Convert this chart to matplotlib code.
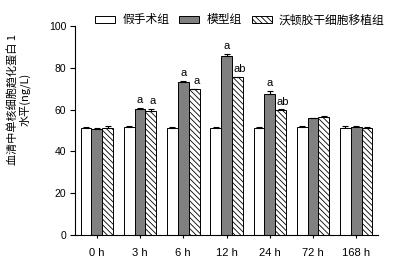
import numpy as np
import matplotlib.pyplot as plt

plt.rcParams['font.family'] = ['Liberation Sans', 'Noto Sans CJK SC', 'DejaVu Sans']
plt.rcParams['hatch.linewidth'] = 0.6

# data
times = ['0 h', '3 h', '6 h', '12 h', '24 h', '72 h', '168 h']
groups = ['假手术组', '模型组', '沃顿胶干细胞移植组']
sham = [51.2, 51.6, 51.3, 51.3, 51.4, 51.8, 51.3]
model = [50.8, 60.4, 73.3, 85.7, 67.5, 55.9, 51.8]
msc = [51.2, 59.4, 69.8, 75.5, 59.9, 56.5, 51.3]
sham_err = [0.4, 0.4, 0.2, 0.2, 0.4, 0.4, 1.0]
model_err = [0.4, 0.5, 0.5, 1.0, 1.2, 0.2, 0.5]
msc_err = [1.1, 0.9, 0.2, 0.2, 0.3, 0.4, 0.4]
model_lab = ['', 'a', 'a', 'a', 'a', '', '']
msc_lab = ['', 'a', 'a', 'ab', 'ab', '', '']

cjk = ['Noto Sans CJK SC', 'DejaVu Sans']

fig = plt.figure(figsize=(4.13, 2.66), dpi=100)
ax = fig.add_axes([0.182, 0.117, 0.733, 0.785])

x = np.arange(len(times))
w = 0.25
series = [(sham, sham_err, 'white', ''), (model, model_err, '#808080', ''),
          (msc, msc_err, 'white', '\\\\\\\\\\\\')]
for i, (vals, errs, col, hatch) in enumerate(series):
    pos = x + (i - 1) * w
    ax.bar(pos, vals, w, color=col, edgecolor='black', linewidth=0.7,
           hatch=hatch, label=groups[i])
    ax.errorbar(pos, vals, yerr=[np.zeros(len(errs)), errs], fmt='none',
                ecolor='black', elinewidth=0.8, capsize=2.5, capthick=0.8)

for i in range(len(times)):
    if model_lab[i]:
        ax.text(x[i], model[i] + model_err[i] + 1.5, model_lab[i],
                ha='center', va='bottom', fontsize=8)
    if msc_lab[i]:
        ax.text(x[i] + w + 0.05, msc[i] + msc_err[i] + 1.2, msc_lab[i],
                ha='center', va='bottom', fontsize=8)

ax.set_xlim(-0.5, 6.5)
ax.set_ylim(0, 100)
ax.set_yticks([0, 20, 40, 60, 80, 100])
ax.set_xticks(x)
ax.set_xticklabels(times)
ax.tick_params(axis='y', labelsize=7.5, length=3.5, width=0.8, pad=3)
ax.tick_params(axis='x', labelsize=8, length=2.5, width=0.8, pad=7)
for s in ['top', 'right']:
    ax.spines[s].set_visible(False)
for s in ['left', 'bottom']:
    ax.spines[s].set_linewidth(0.8)

# y label placed by hand so the two lines stay centred
fig.text(0.046, 0.625, '血清中单核细胞趋化蛋白 1\n水平(ng/L)', fontsize=8,
         family=cjk, rotation=90, ha='center', va='center',
         multialignment='center', linespacing=1.1, rotation_mode='anchor')

fig.legend(loc='center', bbox_to_anchor=(0.581, 0.925), ncol=3, frameon=False,
           handlelength=1.7, handleheight=0.55, columnspacing=0.85,
           handletextpad=0.6, prop={'family': cjk, 'size': 8.5})

fig.savefig('out.png', dpi=100)
